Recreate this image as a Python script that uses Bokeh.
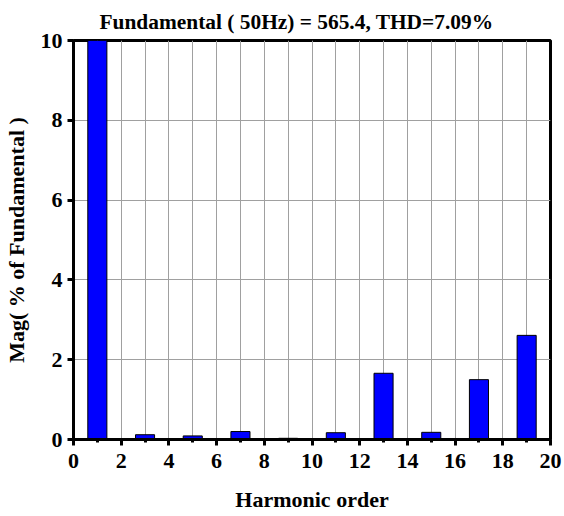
from bokeh.plotting import figure
from bokeh.models import Range1d, FixedTicker, ColumnDataSource, Title
from bokeh.embed import file_html
from bokeh.resources import INLINE

harmonics = [1, 3, 5, 7, 9, 11, 13, 15, 17, 19]
magnitudes = [100.0, 0.12, 0.09, 0.20, 0.03, 0.17, 1.66, 0.18, 1.50, 2.61]
x_ticks = [0, 2, 4, 6, 8, 10, 12, 14, 16, 18, 20]
y_ticks = [0, 2, 4, 6, 8, 10]
title_text = "Fundamental ( 50Hz) = 565.4, THD=7.09%"

FONT = "Liberation Serif"

p = figure(width=564, height=516, output_backend="svg", toolbar_location=None,
           x_range=Range1d(0, 20), y_range=Range1d(0, 10),
           min_border_left=71, min_border_right=14, min_border_top=40, min_border_bottom=77)

p.title = Title(text=title_text, align="left", text_font=FONT, text_font_size="21.4px",
                text_font_style="bold", text_color="black", offset=26, standoff=14)

src = ColumnDataSource(dict(x=harmonics, top=magnitudes))
p.vbar(x="x", top="top", width=0.8, bottom=0, source=src,
       fill_color="#0000ff", line_color="black", line_width=1)

# grids
p.xgrid.ticker = FixedTicker(ticks=list(range(1, 20)))
p.xgrid.grid_line_color = "#a0a0a0"
p.xgrid.grid_line_width = 1
p.ygrid.ticker = FixedTicker(ticks=[2, 4, 6, 8])
p.ygrid.grid_line_color = "#a0a0a0"
p.ygrid.grid_line_width = 1

# axes
p.xaxis.ticker = FixedTicker(ticks=x_ticks, minor_ticks=list(range(1, 20, 2)))
p.yaxis.ticker = FixedTicker(ticks=y_ticks)
for ax in (p.xaxis[0], p.yaxis[0]):
    ax.axis_line_width = 3
    ax.axis_line_color = "black"
    ax.major_tick_line_width = 3
    ax.major_tick_line_color = "black"
    ax.major_tick_in = 0
    ax.major_tick_out = 6
    ax.minor_tick_line_width = 3
    ax.minor_tick_line_color = "black"
    ax.minor_tick_in = 0
    ax.minor_tick_out = 3
    ax.major_label_text_font = FONT
    ax.major_label_text_font_size = "22px"
    ax.major_label_text_font_style = "bold"
    ax.major_label_text_color = "black"
    ax.axis_label_text_font = FONT
    ax.axis_label_text_font_size = "22px"
    ax.axis_label_text_font_style = "bold"
    ax.axis_label_text_color = "black"
p.yaxis.minor_tick_line_color = None
p.xaxis.axis_label = "Harmonic order"
p.yaxis.axis_label = "Mag( % of Fundamental )"
p.xaxis.major_label_standoff = 8
p.yaxis.major_label_standoff = 5
p.xaxis.axis_label_standoff = 16
p.yaxis.axis_label_standoff = 9

p.outline_line_color = "black"
p.outline_line_width = 3
p.outline_line_alpha = 1

open("out.html", "w").write(file_html(p, INLINE))
